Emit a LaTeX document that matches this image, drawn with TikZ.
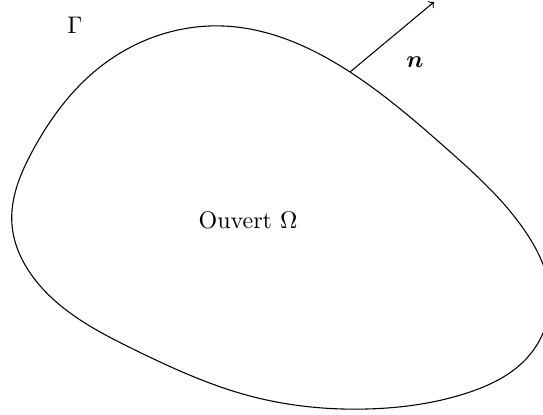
\documentclass[tikz,border=0pt]{standalone}
\usepackage{bm}
\usetikzlibrary{hobby}
\begin{document}
\begin{tikzpicture}[x=0.4166pt,y=-0.4166pt,line width=0.45pt]
\useasboundingbox (0,0) rectangle (543,415);
\draw[use Hobby shortcut,closed=true] (223,26) .. (350,72) .. (447,149) ..
  (527,234) .. (550,298) .. (527,358) .. (467,393) .. (367,409) .. (250,396) ..
  (133,349) .. (33,277) .. (12,225) .. (33,150) .. (100,67);
\coordinate (base) at (350,72);
\coordinate (tip) at (434,2);
\draw[->] (base) -- (tip);
\node (omega) at (248,220) {Ouvert $\Omega$};
\node (gamma) at (75,25) {$\Gamma$};
\node (n) at (415,62) {$\bm{n}$};
\end{tikzpicture}
\end{document}
